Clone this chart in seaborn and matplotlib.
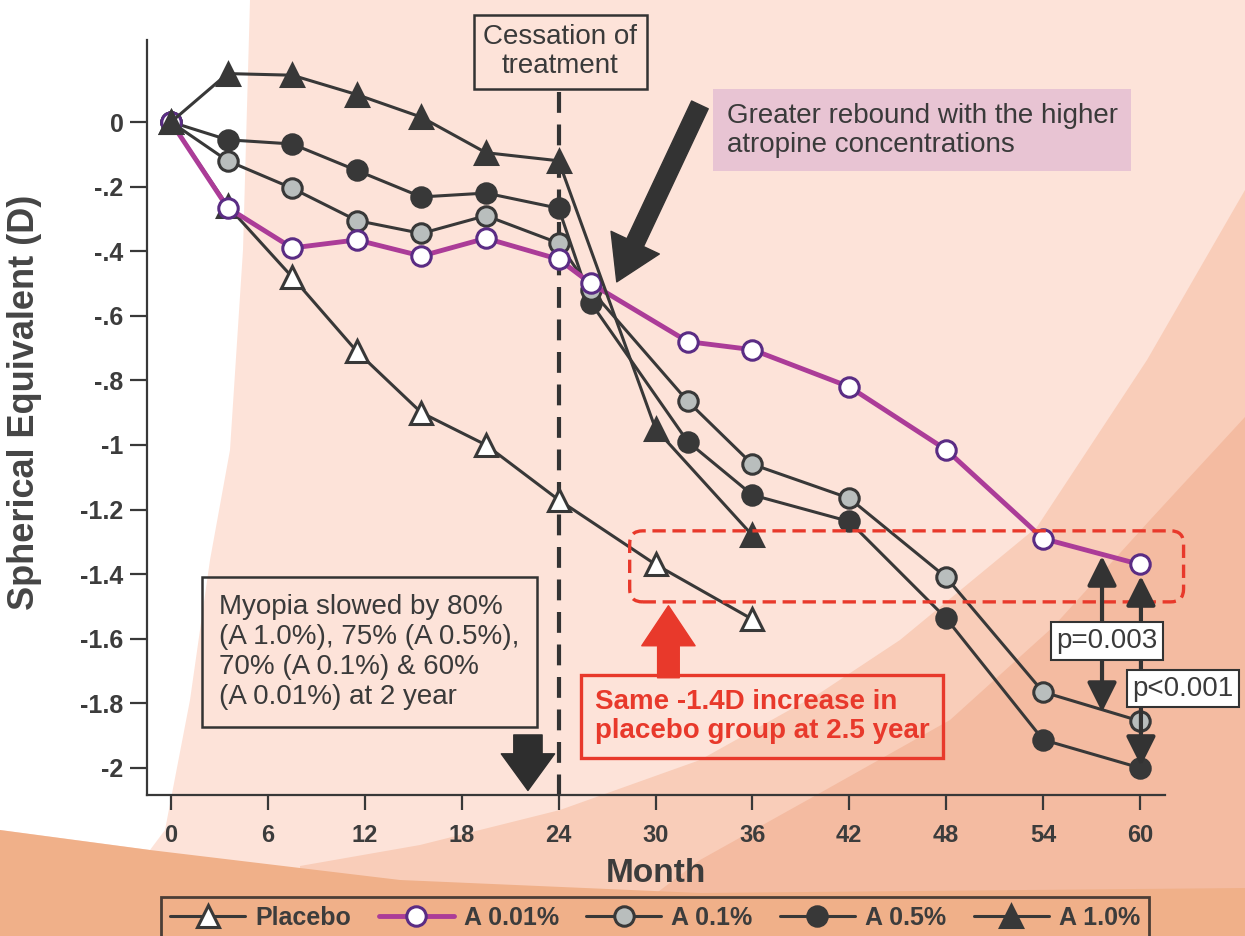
"""Atropine for myopia: spherical equivalent change over 5 years"""

import matplotlib

matplotlib.use("Agg")
import matplotlib.pyplot as plt
import pandas as pd
import seaborn as sns
from matplotlib.patches import FancyBboxPatch, Polygon

# %% Data

months_treat = [0, 3.5, 7.5, 11.5, 15.5, 19.5, 24]

placebo_month = months_treat + [30, 36]
placebo = [0, -0.26, -0.48, -0.71, -0.90, -1.00, -1.17, -1.37, -1.54]

a001_month = months_treat + [26, 32, 36, 42, 48, 54, 60]
a001 = [0, -0.265, -0.39, -0.365, -0.415, -0.36, -0.425,
        -0.50, -0.68, -0.705, -0.82, -1.015, -1.29, -1.37]

a01_month = months_treat + [26, 32, 36, 42, 48, 54, 60]
a01 = [0, -0.12, -0.205, -0.305, -0.345, -0.29, -0.375,
       -0.52, -0.865, -1.06, -1.165, -1.41, -1.765, -1.855]

a05_month = months_treat + [26, 32, 36, 42, 48, 54, 60]
a05 = [0, -0.055, -0.068, -0.15, -0.232, -0.22, -0.267,
       -0.56, -0.99, -1.155, -1.237, -1.537, -1.913, -2.0]

a10_month = months_treat + [30, 36]
a10 = [0, 0.15, 0.145, 0.085, 0.015, -0.095, -0.12, -0.95, -1.28]

x_ticks = [0, 6, 12, 18, 24, 30, 36, 42, 48, 54, 60]
y_ticks = [0, -0.2, -0.4, -0.6, -0.8, -1, -1.2, -1.4, -1.6, -1.8, -2]
y_tick_labels = ["0", "-.2", "-.4", "-.6", "-.8", "-1", "-1.2", "-1.4", "-1.6", "-1.8", "-2"]

# %% Style

sns.set_theme(style="ticks")
plt.rcParams["font.family"] = ["Liberation Sans", "DejaVu Sans"]

DARK = "#383838"
TEXT = "#3a3a3a"
MAGENTA = "#ab3c98"
PURPLE = "#5a2c84"
GREY = "#b9bebd"
RED = "#e8392b"

W, H = 1245, 936
fig = plt.figure(figsize=(W / 100, H / 100), dpi=100, facecolor="#fde3d9")
ax = fig.add_axes([147 / W, 1 - 795 / H, (1165 - 147) / W, (795 - 40) / H])
ax.set_facecolor("none")


def px(points):
    return [(x / W, 1 - y / H) for x, y in points]


# background shapes (figure pixel coords, y down)
shapes = [
    ("#ffffff", [(0, 0), (250, 0), (243, 250), (230, 450), (210, 560),
                 (190, 700), (165, 830), (150, 850), (0, 830)]),
    ("#f9cdb9", [(1245, 190), (1147, 360), (1037, 527), (900, 640), (820, 693),
                 (700, 760), (560, 810), (420, 845), (300, 866), (300, 936), (1245, 936)]),
    ("#f4bba1", [(1245, 417), (1150, 520), (1053, 627), (950, 720), (820, 793),
                 (700, 860), (600, 936), (1245, 936)]),
    ("#f0b089", [(0, 830), (150, 850), (400, 880), (700, 893), (1245, 888),
                 (1245, 936), (0, 936)]),
]
for colour, pts in shapes:
    fig.add_artist(Polygon(px(pts), closed=True, facecolor=colour,
                           edgecolor="none", transform=fig.transFigure, zorder=-5))

# %% Lines

series = {
    "Placebo": (placebo_month, placebo,
                dict(marker="^", markersize=16, markerfacecolor="white",
                     markeredgecolor=DARK, color=DARK, linewidth=2.2)),
    "A 0.5%": (a05_month, a05,
               dict(marker="o", markersize=14, markerfacecolor=DARK,
                    markeredgecolor=DARK, color=DARK, linewidth=2.2)),
    "A 0.1%": (a01_month, a01,
               dict(marker="o", markersize=14, markerfacecolor=GREY,
                    markeredgecolor=DARK, color=DARK, linewidth=2.2)),
    "A 0.01%": (a001_month, a001,
                dict(marker="o", markersize=14, markerfacecolor="white",
                     markeredgecolor=PURPLE, color=MAGENTA, linewidth=3.5)),
    "A 1.0%": (a10_month, a10,
               dict(marker="^", markersize=16, markerfacecolor=DARK,
                    markeredgecolor=DARK, color=DARK, linewidth=2.2)),
}

handles = {}
for name, (xs, ys, kw) in series.items():
    df = pd.DataFrame({"month": xs, "se": ys})
    sns.lineplot(data=df, x="month", y="se", ax=ax, markeredgewidth=2.2,
                 clip_on=False, zorder=3, **kw)
    handles[name] = ax.lines[-1]

# %% Axes

ax.set_xlim(-1.49, 61.55)
ax.set_ylim(-2.084, 0.254)
ax.set_xticks(x_ticks)
ax.set_yticks(y_ticks)
ax.set_yticklabels(y_tick_labels)
sns.despine(ax=ax)
for side in ("left", "bottom"):
    ax.spines[side].set_color(DARK)
    ax.spines[side].set_linewidth(1.6)
ax.tick_params(axis="both", colors=DARK, width=1.6, labelsize=17, labelcolor="#3c3c3c")
ax.tick_params(axis="x", length=11, pad=10)
ax.tick_params(axis="y", length=12, pad=5, labelsize=18)
for lab in ax.get_xticklabels() + ax.get_yticklabels():
    lab.set_fontweight("bold")

ax.set_xlabel("Month", fontsize=24, fontweight="bold", color="#3c3c3c", va="top")
ax.xaxis.set_label_coords(0.5, -0.083)
ax.set_ylabel("Spherical Equivalent (D)", fontsize=26, fontweight="bold", color="#454545")
ax.yaxis.set_label_coords(-0.103, 0.52)

# %% Annotations

# cessation of treatment
ax.plot([24, 24], [0.093, -2.084], color="#333333", linewidth=3,
        linestyle=(0, (5, 2.8)), clip_on=False, zorder=2)
ax.text(24.1, 0.217, "Cessation of\ntreatment", ha="center", va="center",
        fontsize=20, color=TEXT, linespacing=1.15,
        bbox=dict(boxstyle="square,pad=0.35", facecolor="#fde3d9",
                  edgecolor="#333333", linewidth=1.8))

# greater rebound
ax.text(34.4, -0.025, "Greater rebound with the higher\natropine concentrations",
        ha="left", va="center", fontsize=20, color=TEXT, linespacing=1.15,
        bbox=dict(boxstyle="square,pad=0.5", facecolor="#e8c4d3", edgecolor="none"))
ax.annotate("", xy=(27.6, -0.495), xytext=(32.75, 0.053),
            arrowprops=dict(arrowstyle="simple,head_width=3.2,head_length=2.6,tail_width=1.1",
                            color="#333333", mutation_scale=12, shrinkA=0, shrinkB=0))

# myopia slowed
ax.text(2.97, -1.641,
        "Myopia slowed by 80%\n(A 1.0%), 75% (A 0.5%),\n70% (A 0.1%) & 60%\n(A 0.01%) at 2 year",
        ha="left", va="center", fontsize=20, color=TEXT, linespacing=1.2,
        bbox=dict(boxstyle="square,pad=0.62", facecolor="none",
                  edgecolor="#333333", linewidth=1.8))
ax.annotate("", xy=(22.1, -2.07), xytext=(22.1, -1.898),
            arrowprops=dict(arrowstyle="simple,head_width=3.2,head_length=2.2,tail_width=1.7",
                            color="#2e2e2e", mutation_scale=12, shrinkA=0, shrinkB=0))

# red dashed box
ax.add_patch(FancyBboxPatch((28.4, -1.486), 62.7 - 28.4, 1.486 - 1.266,
                            boxstyle="round,pad=0,rounding_size=0.8",
                            mutation_aspect=0.05, facecolor="none", edgecolor=RED,
                            linewidth=2.4, linestyle=(0, (4, 2)), clip_on=False, zorder=4))
ax.annotate("", xy=(30.8, -1.498), xytext=(30.8, -1.721),
            arrowprops=dict(arrowstyle="simple,head_width=3.2,head_length=2.4,tail_width=1.3",
                            color=RED, mutation_scale=12, shrinkA=0, shrinkB=0))
ax.text(36.6, -1.842, "Same -1.4D increase in\nplacebo group at 2.5 year",
        ha="center", va="center", multialignment="left", fontsize=20,
        fontweight="bold", color=RED, linespacing=1.15,
        bbox=dict(boxstyle="square,pad=0.5", facecolor="none",
                  edgecolor=RED, linewidth=2.4))

# p-values
for x0, y_top, y_bot in [(57.65, -1.344, -1.827), (60.06, -1.406, -1.994)]:
    ax.annotate("", xy=(x0, y_top), xytext=(x0, y_bot),
                arrowprops=dict(arrowstyle="<|-|>,head_length=0.9,head_width=0.45",
                                color="#333333", linewidth=3, mutation_scale=20,
                                shrinkA=0, shrinkB=0), zorder=5)
for xc, yc, txt in [(57.96, -1.607, "p=0.003"), (62.66, -1.755, "p<0.001")]:
    ax.text(xc, yc, txt, ha="center", va="center", fontsize=20, color=TEXT,
            zorder=6, clip_on=False,
            bbox=dict(boxstyle="square,pad=0.2", facecolor="white",
                      edgecolor="#333333", linewidth=1.5))

# %% Legend

order = ["Placebo", "A 0.01%", "A 0.1%", "A 0.5%", "A 1.0%"]
leg = ax.legend([handles[k] for k in order], order, loc="upper center",
                bbox_to_anchor=(655 / W, 1 - 897 / H), bbox_transform=fig.transFigure,
                ncol=5, frameon=True, fancybox=False, handlelength=3,
                handletextpad=0.4, columnspacing=1.1, borderaxespad=0,
                borderpad=0.35, prop={"size": 18, "weight": "bold"})
leg.get_frame().set_edgecolor("#222222")
leg.get_frame().set_linewidth(2)
leg.get_frame().set_facecolor("none")
for t in leg.get_texts():
    t.set_color("#3c3c3c")

fig.savefig("out.png", dpi=100, facecolor=fig.get_facecolor())
